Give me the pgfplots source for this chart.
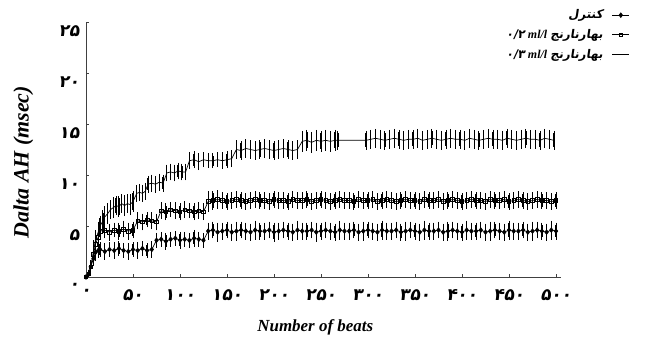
\documentclass[border=0pt]{standalone}
\usepackage{fontspec}
\setmainfont{Liberation Serif}
\newfontfamily\fab[Script=Arabic,FakeSlant=0.15]{DejaVu Sans Bold}
\usepackage{pgfplots}
\usepackage{pgfplotstable}
\pgfplotsset{compat=1.18}
\TeXXeTstate=1

\pgfplotstableread{
x y e
0 0 0
3 0.3 0.2
5 1.0 0.3
8 1.8 0.5
10 2.4 0.6
13 2.6 0.5
15 2.7 0.5
20 2.5 0.6
25 2.7 0.5
30 2.6 0.6
35 2.8 0.5
40 2.6 0.5
45 2.5 0.6
50 2.7 0.5
55 2.6 0.6
60 2.8 0.5
65 2.6 0.5
70 2.7 0.6
75 3.6 0.5
80 3.7 0.5
85 3.5 0.6
90 3.7 0.5
95 3.8 0.5
100 3.6 0.6
105 3.7 0.5
110 3.6 0.5
115 3.8 0.6
120 3.7 0.5
125 3.6 0.5
130 4.5 0.6
135 4.6 0.6
140 4.4 0.7
145 4.5 0.6
150 4.6 0.6
155 4.4 0.6
160 4.5 0.7
165 4.6 0.6
170 4.5 0.6
175 4.4 0.6
180 4.6 0.7
185 4.5 0.6
190 4.5 0.6
195 4.6 0.6
200 4.4 0.7
205 4.5 0.6
210 4.6 0.6
215 4.5 0.6
220 4.4 0.6
225 4.6 0.7
230 4.5 0.6
235 4.5 0.6
240 4.6 0.6
245 4.4 0.7
250 4.5 0.6
255 4.6 0.6
260 4.5 0.6
265 4.4 0.6
270 4.6 0.7
275 4.5 0.6
280 4.5 0.6
285 4.6 0.6
290 4.4 0.6
295 4.5 0.7
300 4.6 0.6
305 4.5 0.6
310 4.4 0.6
315 4.6 0.7
320 4.5 0.6
325 4.5 0.6
330 4.6 0.6
335 4.4 0.6
340 4.5 0.7
345 4.6 0.6
350 4.5 0.6
355 4.4 0.6
360 4.6 0.7
365 4.5 0.6
370 4.5 0.6
375 4.6 0.6
380 4.4 0.6
385 4.5 0.7
390 4.6 0.6
395 4.5 0.6
400 4.4 0.6
405 4.6 0.7
410 4.5 0.6
415 4.5 0.6
420 4.6 0.6
425 4.4 0.6
430 4.5 0.7
435 4.6 0.6
440 4.5 0.6
445 4.4 0.6
450 4.6 0.7
455 4.5 0.6
460 4.5 0.6
465 4.6 0.6
470 4.4 0.6
475 4.5 0.7
480 4.6 0.6
485 4.5 0.6
490 4.4 0.6
495 4.6 0.7
500 4.5 0.6
}\control

\pgfplotstableread{
x y e
0 0 0
3 0.3 0.2
5 1.0 0.4
8 2.2 0.6
10 3.2 0.7
13 3.9 0.6
15 4.5 0.6
20 4.6 0.6
25 4.4 0.6
30 4.6 0.5
35 4.5 0.6
40 4.7 0.6
45 4.5 0.6
50 4.6 0.6
55 5.5 0.6
60 5.4 0.6
65 5.6 0.5
70 5.5 0.6
75 5.4 0.6
80 6.5 0.6
85 6.4 0.6
90 6.6 0.5
95 6.5 0.6
100 6.4 0.6
105 6.6 0.6
110 6.5 0.5
115 6.4 0.6
120 6.5 0.6
125 6.4 0.6
130 7.4 0.8
135 7.5 0.7
140 7.6 0.7
145 7.5 0.6
150 7.4 0.6
155 7.5 0.6
160 7.6 0.6
165 7.5 0.6
170 7.4 0.6
175 7.5 0.6
180 7.6 0.6
185 7.5 0.6
190 7.5 0.6
195 7.4 0.6
200 7.6 0.6
205 7.5 0.6
210 7.5 0.6
215 7.4 0.6
220 7.6 0.6
225 7.5 0.6
230 7.5 0.6
235 7.6 0.6
240 7.4 0.6
245 7.5 0.6
250 7.6 0.6
255 7.5 0.6
260 7.4 0.6
265 7.5 0.6
270 7.6 0.6
275 7.5 0.6
280 7.5 0.6
285 7.4 0.6
290 7.6 0.6
295 7.5 0.6
300 7.5 0.6
305 7.6 0.6
310 7.4 0.6
315 7.5 0.6
320 7.6 0.6
325 7.5 0.6
330 7.4 0.6
335 7.5 0.6
340 7.6 0.6
345 7.5 0.6
350 7.5 0.6
355 7.4 0.6
360 7.6 0.6
365 7.5 0.6
370 7.5 0.6
375 7.6 0.6
380 7.4 0.6
385 7.5 0.6
390 7.6 0.6
395 7.5 0.6
400 7.4 0.6
405 7.5 0.6
410 7.6 0.6
415 7.5 0.6
420 7.5 0.6
425 7.4 0.6
430 7.6 0.6
435 7.5 0.6
440 7.5 0.6
445 7.6 0.6
450 7.4 0.6
455 7.5 0.6
460 7.6 0.6
465 7.5 0.6
470 7.4 0.6
475 7.5 0.6
480 7.6 0.6
485 7.5 0.6
490 7.5 0.6
495 7.4 0.6
500 7.5 0.6
}\lowdose

\pgfplotstableread{
x y e
0 0 0
3 0.3 0.2
5 1.0 0.4
8 2.6 0.8
10 3.6 0.8
13 4.4 0.8
15 5.0 0.8
18 5.5 0.8
20 5.9 0.8
23 6.2 0.8
26 6.6 0.7
29 6.8 0.8
32 7.0 0.7
35 6.9 0.8
38 7.2 0.7
41 7.0 0.8
44 7.2 0.7
47 7.1 0.8
50 7.4 0.8
54 8.2 0.6
57 8.3 0.6
60 8.2 0.6
63 8.4 0.6
66 9.1 0.6
70 9.2 0.6
74 9.1 0.6
78 9.3 0.6
82 9.2 0.6
86 10.2 0.6
90 10.3 0.6
94 10.2 0.6
98 10.4 0.6
102 10.3 0.6
106 10.3 0.6
110 11.4 0.6
115 11.5 0.6
120 11.3 0.6
125 11.5 0.5
130 11.4 0.5
135 11.4 0.5
140 11.5 0.5
145 11.4 0.6
150 11.5 0.6
155 11.6 0.6
160 12.5 0.7
165 12.4 0.7
170 12.6 0.7
175 12.5 0.7
180 12.4 0.7
185 12.5 0.7
190 12.6 0.7
195 12.5 0.7
200 12.4 0.7
205 12.5 0.7
210 12.6 0.7
215 12.5 0.7
220 12.4 0.7
225 12.5 0.7
230 13.3 0.8
235 13.4 0.8
240 13.2 0.8
245 13.4 0.8
250 13.3 0.8
255 13.4 0.8
260 13.3 0.8
265 13.4 0.8
268 13.4 0.7
298 13.4 0.7
303 13.5 0.7
308 13.6 0.7
313 13.5 0.7
318 13.4 0.7
323 13.5 0.7
328 13.6 0.7
333 13.5 0.7
338 13.4 0.7
343 13.5 0.7
348 13.5 0.7
353 13.6 0.7
358 13.4 0.7
363 13.5 0.7
368 13.6 0.7
373 13.5 0.7
378 13.4 0.7
383 13.5 0.7
388 13.6 0.7
393 13.5 0.7
398 13.5 0.7
403 13.4 0.7
408 13.6 0.7
413 13.5 0.7
418 13.4 0.7
423 13.5 0.7
428 13.6 0.7
433 13.5 0.7
438 13.5 0.7
443 13.4 0.7
448 13.6 0.7
453 13.5 0.7
458 13.4 0.7
463 13.5 0.7
468 13.6 0.7
473 13.5 0.7
478 13.5 0.7
483 13.4 0.7
488 13.6 0.7
493 13.5 0.7
498 13.4 0.7
}\highdose

\begin{document}
\begin{tikzpicture}
\path[use as bounding box] (0,0) rectangle (645bp,347bp);
\begin{axis}[
  at={(86bp,70bp)}, anchor=south west,
  scale only axis, width=474.7bp, height=255bp,
  xmin=0, xmax=505, ymin=0, ymax=25,
  axis lines=left, axis line style={-, black!75, line width=0.8pt},
  tick align=inside, major tick length=3bp,
  tick style={black!75, line width=0.6pt},
  xtick={0,50,...,500},
  xticklabels={۰,۵۰,۱۰۰,۱۵۰,۲۰۰,۲۵۰,۳۰۰,۳۵۰,۴۰۰,۴۵۰,۵۰۰},
  ytick={0,5,...,25},
  yticklabels={۰,۵,۱۰,۱۵,۲۰,۲۵},
  ticklabel style={font=\fab\fontsize{17}{17}\selectfont},
  yticklabel style={yshift=-9bp, xshift=-3bp},
  xticklabel style={yshift=-9bp},
  xlabel={Number of beats}, ylabel={Dalta AH (msec)},
  xlabel style={font=\bfseries\itshape\fontsize{17}{17}\selectfont,
    at={(axis description cs:0.483,-0.196)}, anchor=center},
  ylabel style={font=\bfseries\itshape\fontsize{22}{22}\selectfont,
    at={(axis description cs:-0.132,0.45)}, anchor=center},
  legend plot pos=right, legend cell align=right,
  legend style={at={(axis description cs:1.152,1.064)}, anchor=north east,
    draw=none, fill=none, row sep=5bp, font=\fontsize{12}{12}\selectfont,
    /tikz/every odd column/.append style={column sep=7bp}},
  error bars/y dir=both, error bars/y explicit,
  error bars/error bar style={black, line width=1.3pt},
  error bars/error mark options={black, mark size=2.3pt, line width=1pt},
]
\addplot[black, line width=0.7pt, mark=diamond*, mark size=2.3pt]
  table[x=x, y=y, y error=e]{\control};
\addlegendentry{\beginR{\fab کنترل}\endR}
\addplot[black, line width=0.7pt, mark=square, mark size=1.8pt]
  table[x=x, y=y, y error=e]{\lowdose};
\addlegendentry{\beginR{\fab بهارنارنج} \beginL{\bfseries\itshape ml/l}\endL{} \beginL{\fab ۰/۲}\endL\endR}
\addplot[black, line width=0.7pt, no marks]
  table[x=x, y=y, y error=e]{\highdose};
\addlegendentry{\beginR{\fab بهارنارنج} \beginL{\bfseries\itshape ml/l}\endL{} \beginL{\fab ۰/۳}\endL\endR}
\end{axis}
\end{tikzpicture}
\end{document}
